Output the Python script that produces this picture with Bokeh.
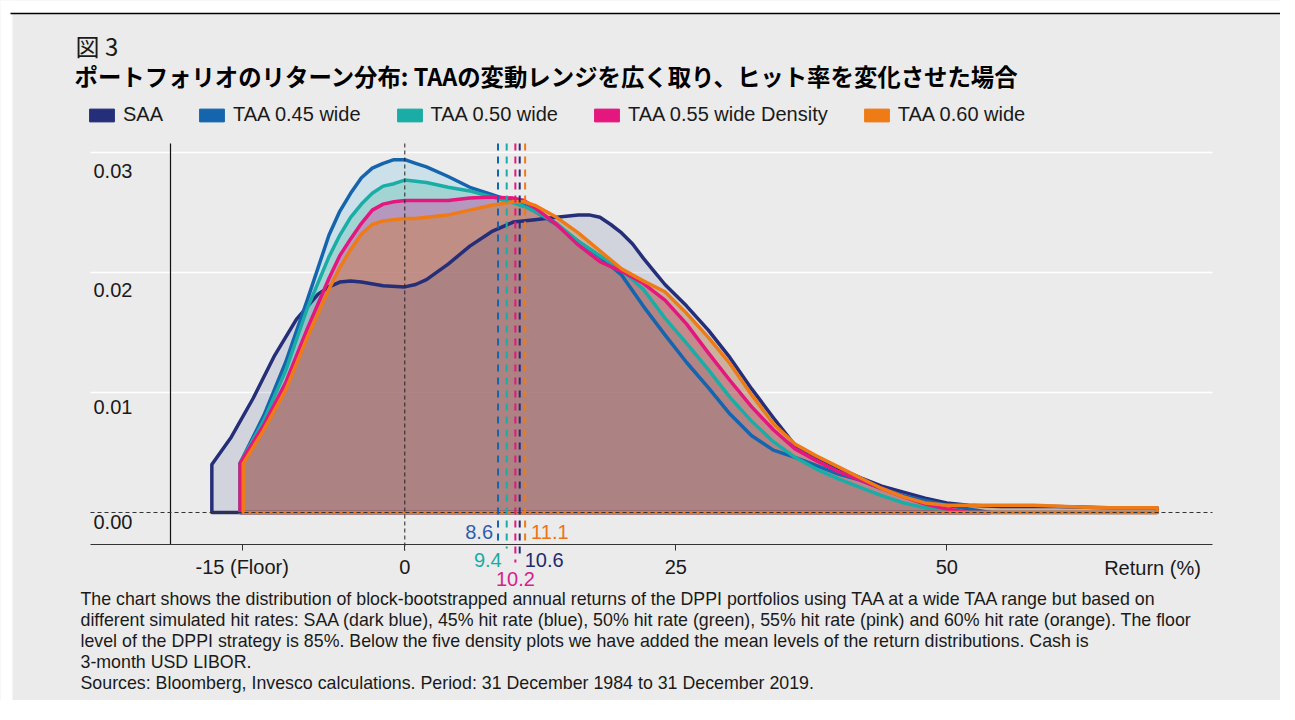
from bokeh.plotting import figure
from bokeh.models import (Range1d, Label, Legend, LegendItem, FixedTicker, LinearAxis,
                          ColumnDataSource)
from bokeh.core.properties import value
from bokeh.embed import file_html
from bokeh.resources import INLINE

# ---------------- data ----------------
series_names = ["SAA", "TAA 0.45 wide", "TAA 0.50 wide", "TAA 0.55 wide Density", "TAA 0.60 wide"]
line_colors = ["#252e78", "#1565ae", "#1aada6", "#e3177e", "#ef7b16"]
fill_colors = ["#252e78", "#8fcbe4", "#56bcaf", "#d92795", "#d47a1c"]
label_colors = ["#1f2a6e", "#2e5db0", "#1aaba5", "#d61f8c", "#ec7318"]

saa_x = [-17.8, -17.8, -16, -14, -12, -10, -8, -7, -6, -5, -4, -2, 0, 1, 2, 4, 6, 8, 10, 12,
         14, 16, 17, 18, 19, 20, 21, 22, 23, 24, 26, 28, 30, 32, 34, 36, 38, 40, 42, 44, 46,
         48, 50, 52, 55, 60, 65, 69.4, 69.4]
saa_y = [0, 0.0040, 0.0063, 0.0095, 0.0131, 0.0161, 0.0182, 0.0188, 0.0192, 0.0193, 0.0192,
         0.0189, 0.0188, 0.0190, 0.0194, 0.0207, 0.0222, 0.0234, 0.0242, 0.0244,
         0.0246, 0.0248, 0.0248, 0.0246, 0.0240, 0.0233, 0.0224, 0.0212, 0.0201, 0.0190,
         0.0172, 0.0152, 0.0129, 0.0103, 0.0079, 0.0056, 0.0046, 0.0037, 0.0029, 0.0022,
         0.0017, 0.0012, 0.0008, 0.0006, 0.0005, 0.0005, 0.0004, 0.0004, 0]

taa_x = [-15.2, -15.2, -13, -11, -9, -7, -6, -5, -4, -3, -2, -1, 0, 1, 2, 4, 6, 8, 10, 11, 12,
         14, 16, 18, 20, 22, 24, 26, 28, 30, 32, 34, 36, 38, 40, 42, 44, 46, 48, 50, 52, 54]
taa45_y = [0, 0.0041, 0.0081, 0.0125, 0.0177, 0.0231, 0.0251, 0.0266, 0.0279, 0.0287, 0.0291,
           0.0294, 0.0294, 0.0291, 0.0288, 0.0280, 0.0271, 0.0265, 0.0259, 0.0256, 0.0251,
           0.0240, 0.0226, 0.0213, 0.0198, 0.0172, 0.0148,
           0.0125, 0.0104, 0.0082, 0.0064, 0.0052, 0.0046,
           0.0039, 0.0032, 0.0027, 0.0020, 0.0014, 0.0010, 0.0006, 0.0003, 0]
taa50_y = [0, 0.0041, 0.0077, 0.0118, 0.0170, 0.0213, 0.0231, 0.0246, 0.0257, 0.0266, 0.0272,
           0.0274, 0.0277, 0.0276, 0.0275, 0.0271, 0.0268, 0.0263, 0.0258, 0.0255, 0.0251,
           0.0241, 0.0226, 0.0214, 0.0202, 0.0186, 0.0162,
           0.0141, 0.0119, 0.0096, 0.0076, 0.0059, 0.0046,
           0.0036, 0.0028, 0.0021, 0.0014, 0.0008, 0.0004, 0.0002, 0, 0]
taa55_y = [0, 0.0041, 0.0073, 0.0108, 0.0153, 0.0195, 0.0214, 0.0228, 0.0241, 0.0252, 0.0257,
           0.0259, 0.0260, 0.0260, 0.0260, 0.0260, 0.0262, 0.0263, 0.0262, 0.0260, 0.0254,
           0.0240, 0.0223, 0.0209, 0.0201, 0.0191, 0.0177,
           0.0157, 0.0133, 0.0110, 0.0088, 0.0069, 0.0053,
           0.0043, 0.0034, 0.0027, 0.0020, 0.0013, 0.0007, 0.0003, 0, 0]

taa60_x = [-14.9, -14.9, -13, -11, -9, -7, -6, -5, -4, -3, -2, -1, 0, 1, 2, 4, 6, 8, 10, 11, 12,
           14, 16, 18, 20, 22, 24, 26, 28, 30, 32, 34, 36, 38, 40, 42, 44, 46, 48, 50, 52,
           55, 58, 61, 64, 67, 69.4, 69.4]
taa60_y = [0, 0.0041, 0.0069, 0.0102, 0.0146, 0.0186, 0.0204, 0.0219, 0.0232, 0.0240, 0.0243,
           0.0244, 0.0245, 0.0245, 0.0246, 0.0248, 0.0252, 0.0256, 0.0259, 0.0259, 0.0256,
           0.0246, 0.0233, 0.0218, 0.0203, 0.0193, 0.0184,
           0.0166, 0.0146, 0.0124, 0.0098, 0.0074, 0.0057,
           0.0047, 0.0038, 0.0029, 0.0020, 0.0013, 0.0008, 0.0006, 0.0006,
           0.0006, 0.0006, 0.0005, 0.0004, 0.0004, 0.0004, 0]

mean_values = [10.6, 8.6, 9.4, 10.2, 11.1]
mean_labels = ["10.6", "8.6", "9.4", "10.2", "11.1"]

x_ticks = [-15, 0, 25, 50]
x_tick_labels = {-15: "-15 (Floor)", 0: "0", 25: "25", 50: "50"}
y_ticks = [0.0, 0.01, 0.02, 0.03]
y_tick_labels = ["0.00", "0.01", "0.02", "0.03"]

title_small = "図 3"
title_main = "ポートフォリオのリターン分布: TAAの変動レンジを広く取り、ヒット率を変化させた場合"
notes = [
    "The chart shows the distribution of block-bootstrapped annual returns of the DPPI portfolios using TAA at a wide TAA range but based on",
    "different simulated hit rates: SAA (dark blue), 45% hit rate (blue), 50% hit rate (green), 55% hit rate (pink) and 60% hit rate (orange). The  floor",
    "level of the DPPI strategy is 85%. Below the five density plots we have added the mean levels of the return distributions. Cash is",
    "3-month USD LIBOR.",
    "Sources: Bloomberg, Invesco calculations. Period: 31 December 1984 to 31 December 2019.",
]

# ---------------- layout helpers (pixel -> data) ----------------
W, H = 1280, 700
PX0, PXU = 404.3, 10.84       # pixel of x=0, pixels per unit
PY0, PYU = 512.0, 12000.0     # pixel of y=0, pixels per unit


def X(px):
    return (px - PX0) / PXU


def Y(py):
    return (PY0 - py) / PYU


BG = "#ebebeb"
TXT = "#1a1a1a"
SANS = "Liberation Sans"
CJK = "Noto Sans CJK JP"
NAN = float("nan")

p = figure(width=W, height=H, x_range=Range1d(X(0), X(W)), y_range=Range1d(Y(H), Y(0)),
           output_backend="svg", toolbar_location=None,
           x_axis_type=None, y_axis_type=None, min_border=0,
           background_fill_color=BG, border_fill_color=BG, outline_line_color=None)
p.xgrid.visible = False
p.ygrid.visible = False

# page decoration: white margins and top rule
p.quad(left=[X(0), X(0)], right=[X(W), X(12)], top=[Y(0), Y(0)], bottom=[Y(12.5), Y(H)],
       fill_color="white", line_color=None)
p.segment(x0=[X(10)], y0=[Y(13)], x1=[X(1280)], y1=[Y(13)], line_color="#000000", line_width=1.3)

# grid lines (white)
p.segment(x0=[X(90)] * 3, x1=[X(1212)] * 3, y0=[0.01, 0.02, 0.03], y1=[0.01, 0.02, 0.03],
          line_color="white", line_width=1.5)

# y axis line
p.segment(x0=[X(170)], x1=[X(170)], y0=[Y(143)], y1=[Y(544)], line_color="#111111",
          line_width=1.2)

# x axis at fixed location
xaxis = LinearAxis(ticker=FixedTicker(ticks=x_ticks), major_label_overrides=x_tick_labels,
                   fixed_location=Y(544), bounds=(X(90), X(1212)),
                   axis_line_color="#333333", axis_line_width=1,
                   major_tick_line_color="#333333", major_tick_out=6, major_tick_in=0,
                   minor_tick_line_color=None, major_label_standoff=5,
                   major_label_text_font=SANS, major_label_text_font_size="20px",
                   major_label_text_color=TXT)
p.add_layout(xaxis, "below")

# y tick labels
ysrc = ColumnDataSource(dict(x=[X(93)] * len(y_ticks), y=y_ticks, t=y_tick_labels,
                             yo=[9, 14, 17, 18]))
p.text(x="x", y="y", text="t", source=ysrc, y_offset="yo",
       text_font=value(SANS), text_font_size="20px", text_color=TXT,
       text_baseline="middle", text_align="left")

# density fills (navy last, light)
series = [(saa_x, saa_y), (taa_x, taa45_y), (taa_x, taa50_y), (taa_x, taa55_y), (taa60_x, taa60_y)]
for i in [1, 2, 3, 4]:
    xs, ys = series[i]
    p.patch(xs, ys, fill_color=fill_colors[i], fill_alpha=0.35, line_color=None)
p.patch(saa_x, saa_y, fill_color=fill_colors[0], fill_alpha=0.12, line_color=None)

# density outlines
for i in range(5):
    xs, ys = series[i]
    p.patch(xs, ys, fill_color=None, line_color=line_colors[i], line_width=3.5,
            line_join="round")

# zero line and x=0 line
p.segment(x0=[X(90)], x1=[X(1212)], y0=[0], y1=[0], line_color="#333333", line_width=1,
          line_dash="4 3")
p.segment(x0=[0], x1=[0], y0=[Y(143)], y1=[Y(550)], line_color="#222222", line_width=1,
          line_dash="4 3")

# mean lines
mean_bottoms = [555, 543, 548, 562, 542]
p.segment(x0=mean_values, x1=mean_values, y0=[Y(143)] * 5, y1=[Y(b) for b in mean_bottoms],
          line_color=line_colors, line_width=2, line_dash="7 6")

# mean labels: (align, x_offset, page y centre)
mean_label_pos = [("left", 5, 559), ("right", -5, 531), ("right", -5, 559),
                  ("center", 0, 578), ("left", 6, 531)]
for m, t, c, (al, xo, py) in zip(mean_values, mean_labels, label_colors, mean_label_pos):
    p.add_layout(Label(x=m, y=H - py, x_units="data", y_units="screen", x_offset=xo,
                       text=t, text_color=c, text_font=SANS, text_font_size="20px",
                       text_align=al, text_baseline="middle"))

p.add_layout(Label(x=X(1152), y=H - 567, x_units="data", y_units="screen",
                   text="Return (%)", text_color=TXT, text_font=SANS, text_font_size="20px",
                   text_align="center", text_baseline="middle"))

# titles
p.add_layout(Label(x=75, y=H - 45, x_units="screen", y_units="screen", text=title_small,
                   text_color=TXT, text_font=CJK, text_font_size="24px",
                   text_baseline="middle"))
p.add_layout(Label(x=74, y=H - 75, x_units="screen", y_units="screen", text=title_main,
                   text_color="#000000", text_font=CJK, text_font_size="23.4px",
                   text_font_style="bold", text_baseline="middle"))

# notes
for k, line in enumerate(notes):
    p.add_layout(Label(x=80, y=H - (598 + 21 * k), x_units="screen", y_units="screen",
                       text=line, text_color=TXT, text_font=SANS, text_font_size="17.8px",
                       text_baseline="middle"))

# legend (swatch renderers hold a single empty quad)
dummies = [p.quad(left=[NAN], right=[NAN], top=[NAN], bottom=[NAN], fill_color=c, line_color=c)
           for c in line_colors]
legend = Legend(items=[LegendItem(label=n, renderers=[r]) for n, r in zip(series_names, dummies)],
                orientation="horizontal", location=(86, H - 126), glyph_width=31, glyph_height=16,
                label_standoff=6, spacing=33, padding=0, margin=0, label_height=22,
                border_line_color=None, background_fill_alpha=0,
                label_text_font=SANS, label_text_font_size="20px", label_text_color=TXT)
p.add_layout(legend)

open("out.html", "w").write(file_html(p, INLINE))
